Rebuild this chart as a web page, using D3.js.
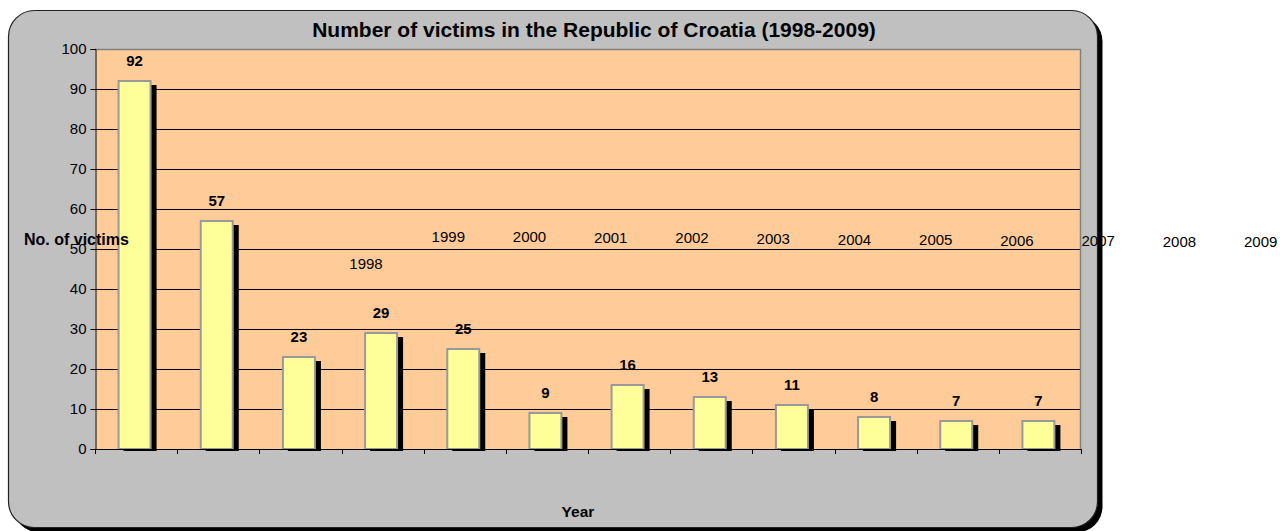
<!DOCTYPE html>
<html>
<head>
<meta charset="utf-8">
<script src="https://cdn.jsdelivr.net/npm/d3@7"></script>
<style>
  html, body { margin: 0; padding: 0; background: #fff; }
  svg { display: block; }
  text { font-family: "Liberation Sans", Arial, sans-serif; fill: #000; }
</style>
</head>
<body>
<svg id="chart" width="1280" height="531"></svg>
<script>
const years = ["1998","1999","2000","2001","2002","2003","2004","2005","2006","2007","2008","2009"];
const victims = [92, 57, 23, 29, 25, 9, 16, 13, 11, 8, 7, 7];
const yTicks = [0, 10, 20, 30, 40, 50, 60, 70, 80, 90, 100];
const titleText = "Number of victims in the Republic of Croatia (1998-2009)";
const yTitle = "No. of victims";
const xTitle = "Year";

const svg = d3.select("#chart");

// chart frame with shadow
const fx = 8.5, fy = 10.5, fw = 1089, fh = 517, fr = 26;
svg.append("rect").attr("x", fx + 5).attr("y", fy + 5).attr("width", fw).attr("height", fh)
  .attr("rx", fr).attr("fill", "#000");
svg.append("rect").attr("x", fx).attr("y", fy).attr("width", fw).attr("height", fh)
  .attr("rx", fr).attr("fill", "#C0C0C0").attr("stroke", "#222").attr("stroke-width", 1.2);

const plot = { left: 95, top: 49, right: 1081, bottom: 449 };

const x = d3.scaleBand().domain(years).range([plot.left, plot.right]).padding(0);
const y = d3.scaleLinear().domain([0, 100]).range([plot.bottom, plot.top]);

// plot background
svg.append("rect").attr("x", plot.left).attr("y", plot.top)
  .attr("width", plot.right - plot.left).attr("height", plot.bottom - plot.top)
  .attr("fill", "#FFCC99");

// gridlines
svg.append("g").selectAll("line").data(yTicks.filter(d => d > 0 && d < 100)).join("line")
  .attr("x1", plot.left).attr("x2", plot.right)
  .attr("y1", d => Math.round(y(d)) + 0.5).attr("y2", d => Math.round(y(d)) + 0.5)
  .attr("stroke", "#000").attr("stroke-width", 1);

// plot border top & right (gray)
svg.append("path")
  .attr("d", `M${plot.left},${plot.top + 0.5}H${plot.right - 0.5}V${plot.bottom}`)
  .attr("fill", "none").attr("stroke", "#808080").attr("stroke-width", 1.5);

// bars
const barW = 32;
const g = svg.append("g");
victims.forEach((v, i) => {
  const cx = x(years[i]) + x.bandwidth() / 2 - 1.5;
  const bx = cx - barW / 2;
  const top = y(v);
  // shadow
  g.append("rect").attr("x", bx + 5).attr("y", top + 4)
    .attr("width", barW + 1).attr("height", y(0) + 2 - (top + 4))
    .attr("fill", "#000");
  // bar
  g.append("rect").attr("x", bx).attr("y", top)
    .attr("width", barW).attr("height", y(0) - top)
    .attr("fill", "#FFFF99").attr("stroke", "#999999").attr("stroke-width", 2);
  // value label
  g.append("text").attr("x", cx).attr("y", top - 15)
    .attr("text-anchor", "middle").attr("font-weight", "bold").attr("font-size", 15)
    .text(v);
});

// y axis
const yAxis = d3.axisLeft(y).tickValues(yTicks).tickSize(5).tickPadding(4);
const ya = svg.append("g").attr("transform", `translate(${plot.left + 0.5},0)`).call(yAxis);
ya.selectAll("text").attr("font-size", 15).attr("font-family", "Liberation Sans, Arial, sans-serif").attr("fill", "#000");
ya.selectAll("line").attr("stroke", "#000");
ya.select(".domain").attr("stroke", "#000");

// x axis (ticks at category boundaries, no labels)
const boundaries = years.map(d => x(d)).concat([plot.right]);
svg.append("line").attr("x1", plot.left).attr("x2", plot.right)
  .attr("y1", plot.bottom + 0.5).attr("y2", plot.bottom + 0.5).attr("stroke", "#000");
svg.append("g").selectAll("line").data(boundaries).join("line")
  .attr("x1", d => Math.round(d) + 0.5).attr("x2", d => Math.round(d) + 0.5)
  .attr("y1", plot.bottom).attr("y2", plot.bottom + 5)
  .attr("stroke", "#000");

// displaced year labels (as in the reference)
const lblX = d3.scaleLinear().domain([1, 11]).range([448.3, 1260.7]);
const lblY = d3.scaleLinear().domain([1, 11]).range([236.5, 242]);
svg.append("g").selectAll("text").data(years).join("text")
  .attr("x", (d, i) => i === 0 ? 366 : lblX(i))
  .attr("y", (d, i) => i === 0 ? 263.5 : lblY(i))
  .attr("dy", "0.35em")
  .attr("text-anchor", "middle").attr("font-size", 15)
  .text(d => d);

// titles
svg.append("text").attr("x", 594).attr("y", 36.5).attr("text-anchor", "middle")
  .attr("font-weight", "bold").attr("font-size", 21).text(titleText);
svg.append("text").attr("x", 24).attr("y", 244.5)
  .attr("font-weight", "bold").attr("font-size", 16).text(yTitle);
svg.append("text").attr("x", 578).attr("y", 516.5).attr("text-anchor", "middle")
  .attr("font-weight", "bold").attr("font-size", 15.5).text(xTitle);
</script>
</body>
</html>
